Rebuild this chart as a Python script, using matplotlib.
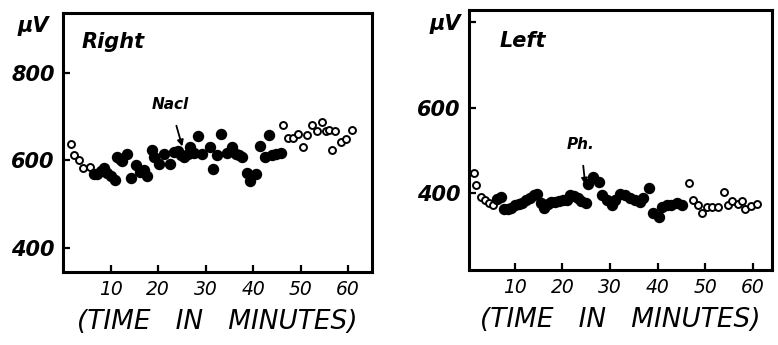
import matplotlib
matplotlib.use("Agg")
import matplotlib.pyplot as plt

# Right hemisphere (minutes, microvolts)
right_open1_t = [1.6, 2.4, 3.3, 4.3, 5.6]
right_open1_v = [638, 612, 601, 583, 585]
right_fill_t = [6.5, 7.2, 7.9, 8.6, 9.3, 10.0, 10.9, 11.4, 12.0, 12.5, 13.5, 14.4, 15.3, 16.2,
                17.0, 17.7, 18.8, 19.1, 20.1, 21.3, 22.6, 23.3, 24.2, 24.8, 25.5, 26.2, 26.8,
                27.5, 28.5, 29.3, 31.0, 31.5, 32.4, 33.3, 34.5, 35.6, 36.3, 37.0, 37.7, 38.7,
                39.4, 40.7, 41.4, 42.6, 43.3, 44.0, 44.9, 45.8]
right_fill_v = [568, 570, 575, 582, 571, 565, 555, 607, 603, 598, 615, 560, 590, 573,
                578, 565, 624, 607, 593, 615, 593, 620, 622, 612, 608, 614, 630,
                616, 656, 615, 630, 580, 612, 660, 618, 630, 615, 612, 609, 571,
                554, 568, 634, 608, 658, 612, 614, 616]
right_open2_t = [46.3, 47.4, 48.5, 49.5, 50.6, 51.3, 52.5, 53.4, 54.5, 55.4, 56.0, 56.6,
                 57.3, 58.5, 59.5, 60.8]
right_open2_v = [681, 652, 652, 661, 631, 658, 680, 668, 688, 667, 670, 623,
                 668, 643, 650, 669]

# Left hemisphere
left_open1_t = [1.5, 1.9, 2.8, 3.8, 4.5, 5.4]
left_open1_v = [448, 419, 392, 384, 376, 373]
left_fill_t = [6.2, 7.0, 7.7, 8.5, 9.3, 10.0, 10.8, 11.6, 12.4, 13.2, 14.0, 14.7, 15.4,
               16.1, 16.9, 17.7, 18.5, 19.3, 20.1, 20.9, 21.6, 22.4, 23.2, 24.0, 25.0,
               25.4, 26.5, 27.7, 28.3, 29.3, 30.4, 31.1, 32.1, 33.2, 34.2, 35.3, 36.3,
               37.0, 38.2, 39.1, 40.2, 40.9, 41.9, 42.9, 44.0, 45.1]
left_fill_v = [386, 390, 362, 363, 366, 372, 375, 378, 383, 388, 396, 398, 378,
               366, 374, 380, 380, 382, 385, 383, 396, 393, 388, 382, 378,
               422, 438, 427, 395, 384, 372, 384, 399, 395, 388, 384, 380,
               388, 411, 354, 345, 368, 372, 373, 376, 372]
left_open2_t = [46.5, 47.5, 48.6, 49.3, 50.3, 51.4, 52.6, 53.9, 54.8, 55.7, 56.8, 57.8,
                58.4, 59.7, 60.9]
left_open2_v = [423, 384, 372, 354, 367, 367, 367, 403, 373, 381, 374, 381,
                363, 369, 374]

fig = plt.figure(figsize=(7.78, 3.45), dpi=100)
ax1 = fig.add_axes([0.081, 0.212, 0.397, 0.750])
ax2 = fig.add_axes([0.603, 0.217, 0.389, 0.754])

fill_kw = dict(marker='o', color='black', markersize=7.2, linestyle='none')
open_kw = dict(marker='o', markerfacecolor='white', markeredgecolor='black',
               markersize=5.0, markeredgewidth=1.4, linestyle='none')


def style(ax):
    for s in ax.spines.values():
        s.set_linewidth(2.2)
    ax.tick_params(axis='both', direction='in', length=5, width=1.6, pad=6)
    ax.set_xticks([10, 20, 30, 40, 50, 60])
    ax.set_xticklabels(['10', '20', '30', '40', '50', '60'],
                       fontsize=13.5, fontstyle='italic')
    ax.set_xlabel('(TIME   IN   MINUTES)', fontsize=19, fontstyle='italic', labelpad=7)


ax1.plot(right_open1_t, right_open1_v, **open_kw)
ax1.plot(right_fill_t, right_fill_v, **fill_kw)
ax1.plot(right_open2_t, right_open2_v, **open_kw)
ax1.set_xlim(0, 65)
ax1.set_ylim(346, 936)
style(ax1)
ax1.set_yticks([400, 600, 800])
ax1.set_yticklabels(['400', '600', '800'], fontsize=15, fontstyle='italic',
                    fontweight='bold')
ax1.text(0.06, 0.89, 'Right', transform=ax1.transAxes, fontsize=15,
         fontstyle='italic', fontweight='bold', va='center')
fig.text(0.043, 0.925, 'μV', fontsize=15, fontstyle='italic', fontweight='bold',
         ha='center', va='center')
ax1.annotate('Nacl', xy=(25.1, 632), xytext=(22.6, 727), fontsize=11,
             fontstyle='italic', fontweight='bold', ha='center', va='center',
             arrowprops=dict(arrowstyle='-|>', color='black', lw=1.3,
                             shrinkA=8, shrinkB=0, mutation_scale=9))

ax2.plot(left_open1_t, left_open1_v, **open_kw)
ax2.plot(left_fill_t, left_fill_v, **fill_kw)
ax2.plot(left_open2_t, left_open2_v, **open_kw)
ax2.set_xlim(0.4, 64)
ax2.set_ylim(220, 828)
style(ax2)
ax2.set_yticks([400, 600, 800])
ax2.set_yticklabels(['400', '600', 'μV'], fontsize=15, fontstyle='italic',
                    fontweight='bold')
ax2.text(0.10, 0.88, 'Left', transform=ax2.transAxes, fontsize=15,
         fontstyle='italic', fontweight='bold', va='center')
ax2.annotate('Ph.', xy=(24.8, 420), xytext=(23.9, 514), fontsize=11,
             fontstyle='italic', fontweight='bold', ha='center', va='center',
             arrowprops=dict(arrowstyle='-|>', color='black', lw=1.3,
                             shrinkA=8, shrinkB=0, mutation_scale=9))

fig.savefig('out.png', dpi=100)
